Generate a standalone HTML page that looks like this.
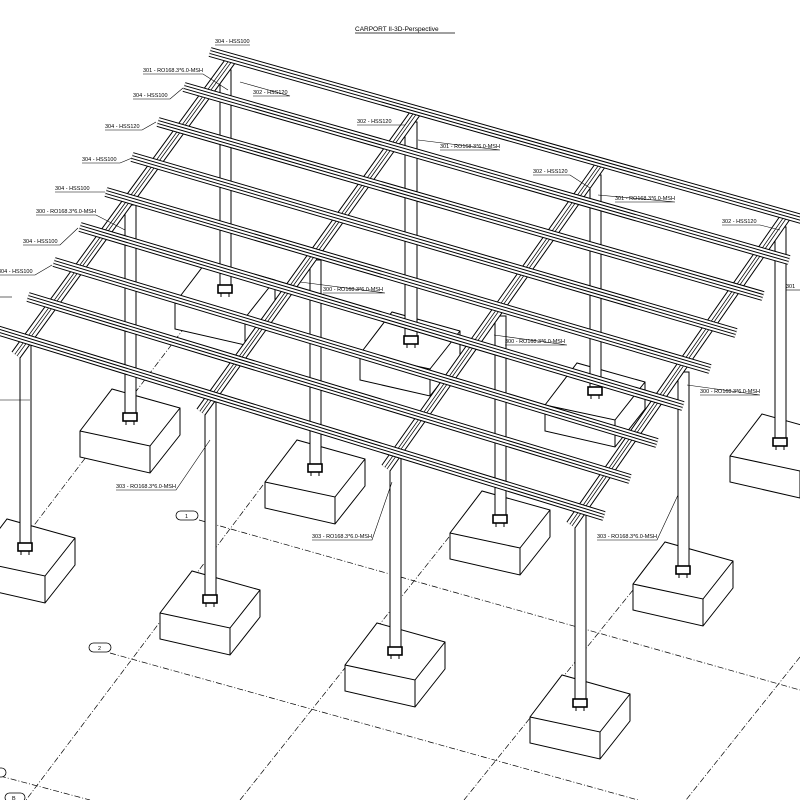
<!DOCTYPE html>
<html><head><meta charset="utf-8"><style>
html,body{margin:0;padding:0;background:#fff;width:800px;height:800px;overflow:hidden}
svg{display:block}
text{font-family:"Liberation Sans",sans-serif;font-size:5.5px;fill:#000}
</style></head><body>
<svg width="800" height="800" viewBox="0 0 800 800" xmlns="http://www.w3.org/2000/svg">
<defs>
<g id="ft">
<polygon points="-50,13 -18,-29 50,-10 50,17 20,55 -50,39" fill="#fff" stroke="#000" stroke-width="1"/>
<polyline points="-50,13 20,28 50,-10" fill="none" stroke="#000" stroke-width="1"/>
<line x1="20" y1="28" x2="20" y2="55" stroke="#000" stroke-width="1"/>
</g>
<g id="bp">
<rect x="-7" y="-5" width="14" height="8" fill="#fff" stroke="#000" stroke-width="1.6"/>
<line x1="-4" y1="3" x2="-4" y2="7" stroke="#000"/><line x1="4" y1="3" x2="4" y2="7" stroke="#000"/>
</g>
</defs>

<!-- ground dashed lines -->
<g stroke="#000" stroke-width="0.7" stroke-dasharray="6,2,1,2" fill="none">
<line x1="199" y1="520" x2="800" y2="690"/>
<line x1="110" y1="653" x2="638" y2="800"/>
<line x1="0" y1="776" x2="90" y2="800"/>
<line x1="263" y1="485" x2="26" y2="800"/>
<line x1="449" y1="537" x2="240" y2="800"/>
<line x1="633" y1="590" x2="464" y2="800"/>
<line x1="800" y1="657" x2="686" y2="800"/>
<line x1="185" y1="327" x2="0" y2="570"/>
</g>
<g stroke="#000" stroke-width="0.8" fill="#fff">
<rect x="176" y="511" width="22" height="9" rx="4.5"/>
<rect x="89" y="643" width="22" height="9" rx="4.5"/>
<rect x="5" y="793" width="20" height="9" rx="4.5"/>
<rect x="-8" y="768" width="14" height="9" rx="4.5"/>
</g>
<text x="185" y="518">1</text><text x="98" y="650">2</text><text x="12" y="800">B</text>

<!-- footings back to front, with columns -->
<g stroke="#000" stroke-width="1" fill="#fff">
<use href="#ft" x="225" y="290"/><use href="#ft" x="410" y="341"/><use href="#ft" x="595" y="392"/><use href="#ft" x="780" y="443"/>
<rect x="220" y="70" width="11" height="220"/><rect x="405" y="122" width="12" height="219"/><rect x="590" y="175" width="11" height="217"/><rect x="775" y="227" width="11" height="216"/>
<use href="#bp" x="225" y="290"/><use href="#bp" x="411" y="341"/><use href="#bp" x="595" y="392"/><use href="#bp" x="780" y="443"/>
<use href="#ft" x="130" y="418"/><use href="#ft" x="315" y="469"/><use href="#ft" x="500" y="520"/><use href="#ft" x="683" y="571"/>
<rect x="125" y="205" width="11" height="213"/><rect x="310" y="260" width="11" height="209"/><rect x="495" y="316" width="11" height="204"/><rect x="678" y="372" width="11" height="199"/>
<use href="#bp" x="130" y="418"/><use href="#bp" x="315" y="469"/><use href="#bp" x="500" y="520"/><use href="#bp" x="683" y="571"/>
<use href="#ft" x="25" y="548"/><use href="#ft" x="210" y="600"/><use href="#ft" x="395" y="652"/><use href="#ft" x="580" y="704"/>
<rect x="20" y="345" width="11" height="203"/><rect x="205" y="402" width="11" height="198"/><rect x="390" y="458" width="11" height="194"/><rect x="575" y="515" width="11" height="189"/>
<use href="#bp" x="25" y="548"/><use href="#bp" x="210" y="600"/><use href="#bp" x="395" y="652"/><use href="#bp" x="580" y="704"/>
</g>

<!-- rafters -->
<g fill="none">
<g stroke="#000" stroke-width="11">
<line x1="234" y1="56" x2="16" y2="355"/><line x1="419" y1="108" x2="201" y2="412"/><line x1="604" y1="160" x2="386" y2="468"/><line x1="789" y1="212" x2="571" y2="525"/>
</g>
<g stroke="#fff" stroke-width="9">
<line x1="234" y1="56" x2="16" y2="355"/><line x1="419" y1="108" x2="201" y2="412"/><line x1="604" y1="160" x2="386" y2="468"/><line x1="789" y1="212" x2="571" y2="525"/>
</g>
<g stroke="#000" stroke-width="3.5">
<line x1="234" y1="56" x2="16" y2="355"/><line x1="419" y1="108" x2="201" y2="412"/><line x1="604" y1="160" x2="386" y2="468"/><line x1="789" y1="212" x2="571" y2="525"/>
</g>
<g stroke="#fff" stroke-width="2">
<line x1="234" y1="56" x2="16" y2="355"/><line x1="419" y1="108" x2="201" y2="412"/><line x1="604" y1="160" x2="386" y2="468"/><line x1="789" y1="212" x2="571" y2="525"/>
</g>
</g>

<!-- rails -->
<g fill="none">
<g stroke="#000" stroke-width="10">
<line x1="210" y1="52" x2="830" y2="227"/><line x1="184" y1="87" x2="789" y2="260"/><line x1="158" y1="122" x2="763" y2="296"/><line x1="132" y1="157" x2="736" y2="333"/><line x1="106" y1="192" x2="710" y2="369"/><line x1="80" y1="227" x2="683" y2="406"/><line x1="54" y1="262" x2="657" y2="443"/><line x1="28" y1="297" x2="630" y2="479"/><line x1="-10" y1="328" x2="604" y2="516"/>
</g>
<g stroke="#fff" stroke-width="8">
<line x1="210" y1="52" x2="830" y2="227"/><line x1="184" y1="87" x2="789" y2="260"/><line x1="158" y1="122" x2="763" y2="296"/><line x1="132" y1="157" x2="736" y2="333"/><line x1="106" y1="192" x2="710" y2="369"/><line x1="80" y1="227" x2="683" y2="406"/><line x1="54" y1="262" x2="657" y2="443"/><line x1="28" y1="297" x2="630" y2="479"/><line x1="-10" y1="328" x2="604" y2="516"/>
</g>
<g stroke="#000" stroke-width="4">
<line x1="210" y1="52" x2="830" y2="227"/><line x1="184" y1="87" x2="789" y2="260"/><line x1="158" y1="122" x2="763" y2="296"/><line x1="132" y1="157" x2="736" y2="333"/><line x1="106" y1="192" x2="710" y2="369"/><line x1="80" y1="227" x2="683" y2="406"/><line x1="54" y1="262" x2="657" y2="443"/><line x1="28" y1="297" x2="630" y2="479"/><line x1="-10" y1="328" x2="604" y2="516"/>
</g>
<g stroke="#fff" stroke-width="2">
<line x1="210" y1="52" x2="830" y2="227"/><line x1="184" y1="87" x2="789" y2="260"/><line x1="158" y1="122" x2="763" y2="296"/><line x1="132" y1="157" x2="736" y2="333"/><line x1="106" y1="192" x2="710" y2="369"/><line x1="80" y1="227" x2="683" y2="406"/><line x1="54" y1="262" x2="657" y2="443"/><line x1="28" y1="297" x2="630" y2="479"/><line x1="-10" y1="328" x2="604" y2="516"/>
</g>
</g>

<!-- title -->
<text x="355" y="31" style="font-size:6.5px">CARPORT II-3D-Perspective</text>
<line x1="355" y1="33" x2="455" y2="33" stroke="#000" stroke-width="0.8"/>

<!-- labels -->
<g stroke="#000" stroke-width="0.6" fill="none">
<polyline points="215,45 250,45"/>
<polyline points="143,74 203,74 228,90"/>
<polyline points="253,96 290,96 240,82"/>
<polyline points="133,99 170,99 183,88"/>
<polyline points="105,130 142,130 156,122"/>
<polyline points="357,125 405,125 412,115"/>
<polyline points="440,150 500,150 418,140"/>
<polyline points="82,163 120,163 132,158"/>
<polyline points="533,175 570,175 590,188"/>
<polyline points="615,202 675,202 598,195"/>
<polyline points="55,192 92,192 105,192"/>
<polyline points="36,215 96,215 125,230"/>
<polyline points="722,225 760,225 780,230"/>
<polyline points="23,245 60,245 78,228"/>
<polyline points="786,290 800,290"/>
<polyline points="0,275 35,275 52,265"/>
<polyline points="323,293 385,293 300,282"/>
<polyline points="505,345 567,345 494,335"/>
<polyline points="700,395 760,395 687,385"/>
<polyline points="116,490 176,490 210,440"/>
<polyline points="312,540 372,540 392,482"/>
<polyline points="597,540 657,540 678,495"/>
<polyline points="0,400 30,400"/>
<polyline points="0,297 12,297"/>
</g>
<text x="215" y="43">304 - HSS100</text>
<text x="143" y="72">301 - RO168.3*6.0-MSH</text>
<text x="253" y="94">302 - HSS120</text>
<text x="133" y="97">304 - HSS100</text>
<text x="105" y="128">304 - HSS120</text>
<text x="357" y="123">302 - HSS120</text>
<text x="440" y="148">301 - RO168.3*6.0-MSH</text>
<text x="82" y="161">304 - HSS100</text>
<text x="533" y="173">302 - HSS120</text>
<text x="615" y="200">301 - RO168.3*6.0-MSH</text>
<text x="55" y="190">304 - HSS100</text>
<text x="36" y="213">300 - RO168.3*6.0-MSH</text>
<text x="722" y="223">302 - HSS120</text>
<text x="23" y="243">304 - HSS100</text>
<text x="786" y="288">301</text>
<text x="-2" y="273">304 - HSS100</text>
<text x="323" y="291">300 - RO168.3*6.0-MSH</text>
<text x="505" y="343">300 - RO168.3*6.0-MSH</text>
<text x="700" y="393">300 - RO168.3*6.0-MSH</text>
<text x="116" y="488">303 - RO168.3*6.0-MSH</text>
<text x="312" y="538">303 - RO168.3*6.0-MSH</text>
<text x="597" y="538">303 - RO168.3*6.0-MSH</text>
</svg>
</body></html>
